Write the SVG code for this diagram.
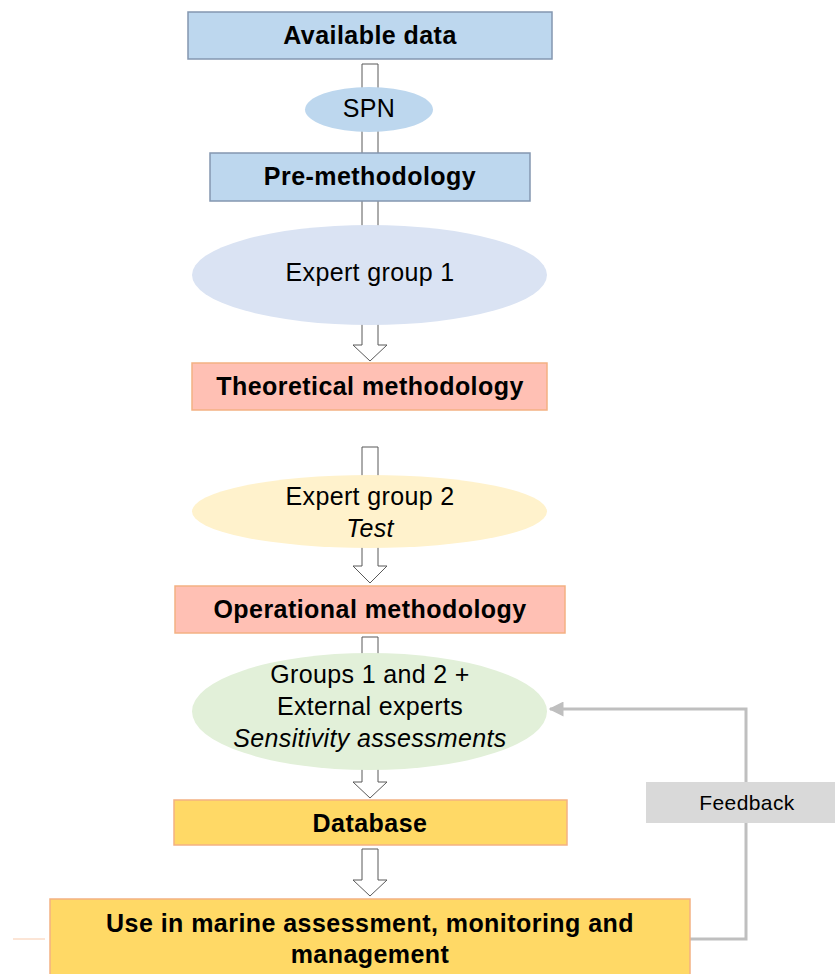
<svg xmlns="http://www.w3.org/2000/svg" width="835" height="974" viewBox="0 0 835 974">
<defs>
<style>
.b{font-family:"Liberation Sans",Arial,sans-serif;font-weight:bold;font-size:25px;letter-spacing:0.45px;text-anchor:middle;fill:#000}
.r{font-family:"Liberation Sans",Arial,sans-serif;font-size:25px;letter-spacing:0.35px;text-anchor:middle;fill:#000}
.i{font-style:italic}
.arr{fill:#fff;stroke:#595959;stroke-width:1}
.blue{fill:#BDD7EE;stroke:#8497B0;stroke-width:1.5}
.pink{fill:#FFC0B4;stroke:#F4B183;stroke-width:1.5}
.yel{fill:#FFD966;stroke:#F4B183;stroke-width:1.5}
</style>
<marker id="ah" viewBox="0 0 10 10" refX="9" refY="5" markerWidth="5" markerHeight="5" orient="auto" markerUnits="strokeWidth">
<path d="M0,0 L10,5 L0,10 z" fill="#BFBFBF"/>
</marker>
</defs>
<rect width="835" height="974" fill="#fff"/>
<g id="connectors">
<path class="arr" d="M362,64 H378 V345 H387 L370,361 L353,345 H362 Z"/>
<path class="arr" d="M362,447 H378 V566 H387 L370,583 L353,566 H362 Z"/>
<path class="arr" d="M362,637 H378 V782 H387 L370,798 L353,782 H362 Z"/>
<path class="arr" d="M362,849 H378 V880 H387 L370,896 L353,880 H362 Z"/>
<polyline points="690,939 746,939 746,709 550,709" fill="none" stroke="#BFBFBF" stroke-width="3" marker-end="url(#ah)"/>
<line x1="13" y1="939" x2="45" y2="939" stroke="#F8CBAD" stroke-width="1"/>
</g>
<g id="available-data">
<rect class="blue" x="188" y="12" width="364" height="47"/>
<text class="b" x="370" y="44">Available data</text>
</g>
<g id="spn">
<ellipse cx="369" cy="109.5" rx="64" ry="22.5" fill="#BDD7EE"/>
<text class="r" x="369" y="117">SPN</text>
</g>
<g id="pre-methodology">
<rect class="blue" x="210" y="153" width="320" height="48"/>
<text class="b" x="370" y="185">Pre-methodology</text>
</g>
<g id="expert-group-1">
<ellipse cx="369.5" cy="275" rx="177.5" ry="50" fill="#DAE3F3"/>
<text class="r" x="370" y="281">Expert group 1</text>
</g>
<g id="theoretical-methodology">
<rect class="pink" x="192" y="363" width="355" height="47"/>
<text class="b" x="370" y="395">Theoretical methodology</text>
</g>
<g id="expert-group-2">
<ellipse cx="369.5" cy="511.5" rx="177.5" ry="36.5" fill="#FFF2CC"/>
<text class="r" x="370" y="505">Expert group 2</text>
<text class="r i" x="370" y="537">Test</text>
</g>
<g id="operational-methodology">
<rect class="pink" x="175" y="586" width="390" height="47"/>
<text class="b" x="370" y="618">Operational methodology</text>
</g>
<g id="groups-external">
<ellipse cx="369.5" cy="711.5" rx="177.5" ry="58.5" fill="#E2F0D9"/>
<text class="r" x="370" y="683">Groups 1 and 2 +</text>
<text class="r" x="370" y="715">External experts</text>
<text class="r i" x="370" y="747">Sensitivity assessments</text>
</g>
<g id="database">
<rect class="yel" x="174" y="800" width="393" height="45"/>
<text class="b" x="370" y="832">Database</text>
</g>
<g id="use">
<rect class="yel" x="50" y="899" width="640" height="80"/>
<text class="b" x="370" y="932">Use in marine assessment, monitoring and</text>
<text class="b" x="370" y="963">management</text>
</g>
<g id="feedback">
<rect x="646" y="782" width="195" height="41" fill="#D9D9D9"/>
<text x="747" y="810" font-family="Liberation Sans, Arial, sans-serif" font-size="21" letter-spacing="0.4" text-anchor="middle" fill="#000">Feedback</text>
</g>
</svg>
